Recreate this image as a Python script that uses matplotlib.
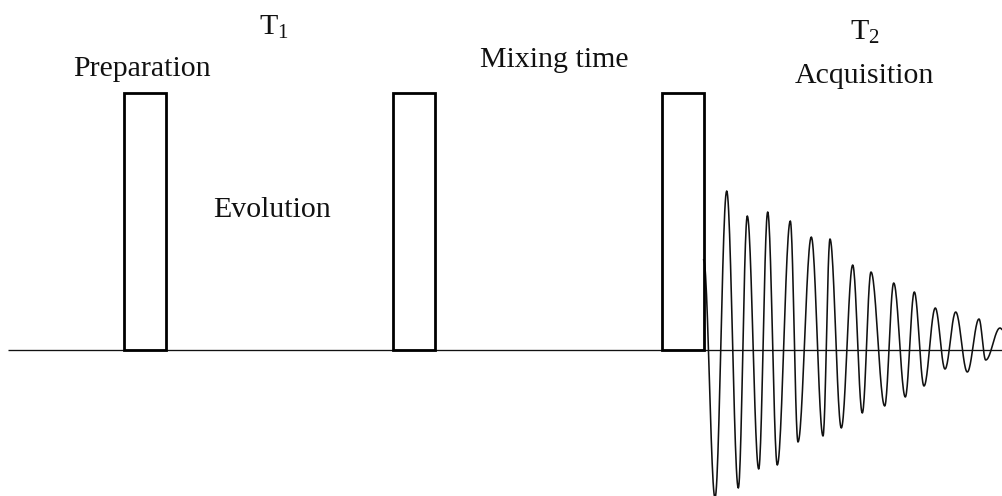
import numpy as np
import matplotlib
matplotlib.use("Agg")
import matplotlib.pyplot as plt
from matplotlib.patches import Rectangle

plt.rcParams['font.family'] = ['Liberation Serif', 'DejaVu Serif']
plt.rcParams['mathtext.fontset'] = 'custom'
plt.rcParams['mathtext.rm'] = 'Liberation Serif'
plt.rcParams['mathtext.it'] = 'Liberation Serif:italic'

# pulse sequence: start time of each RF pulse, its length and height
pulse_start = [124.3, 393.3, 662.2]
pulse_len = 41.5
pulse_height = 257.5

# free induction decay, turning points (time, amplitude)
fid_t = [703.7, 715, 726.7, 738.3, 747.3, 758.7, 767.7, 777.3, 790.3, 798,
         811.3, 823, 830, 841.3, 852.7, 862.3, 871, 884.7, 893.7, 905.3,
         914.3, 924, 935.3, 945, 955.7, 967.3, 979, 985.7, 1000, 1003]
fid_a = [90, -148, 159, -138, 134, -119, 138, -115, 129, -92,
         113, -86, 111, -78, 85, -63, 78, -56, 67, -47,
         58, -36, 42, -19, 38, -22, 31, -10, 22, 20]

# labels: text, x, y (baseline)
labels = ['Preparation', 'T$_1$', 'Evolution', 'Mixing time', 'T$_2$', 'Acquisition']
label_x = [73, 259, 213, 480, 850, 795]
label_y = [274, 315, 133, 283, 310, 267]


def smooth_through(t, a, n=24):
    # half-cosine segments between successive turning points
    xs, ys = [], []
    for i in range(len(t) - 1):
        s = np.linspace(0, 1, n, endpoint=False)
        xs.append(t[i] + (t[i + 1] - t[i]) * s)
        ys.append(a[i] + (a[i + 1] - a[i]) * (1 - np.cos(np.pi * s)) / 2)
    xs.append([t[-1]])
    ys.append([a[-1]])
    return np.concatenate(xs), np.concatenate(ys)


fig = plt.figure(figsize=(10.03, 4.96), dpi=100)
ax = fig.add_axes([0, 0, 1, 1])
ax.set_xlim(0, 1003)
ax.set_ylim(-146, 350)
ax.axis('off')

ax.hlines(0, 8, 1003, color='#111111', lw=0.95, zorder=2)

fx, fy = smooth_through(fid_t, fid_a)
ax.plot(fx, fy, color='#111111', lw=1.15, zorder=1)

for p in pulse_start:
    ax.add_patch(Rectangle((p, 0), pulse_len, pulse_height, fill=False,
                           edgecolor='black', lw=2.0, zorder=3,
                           joinstyle='miter'))

for txt, x, y in zip(labels, label_x, label_y):
    ax.text(x, y, txt, fontsize=21.5, ha='left', va='baseline', color='#111111')

fig.savefig('out.png', dpi=100)
